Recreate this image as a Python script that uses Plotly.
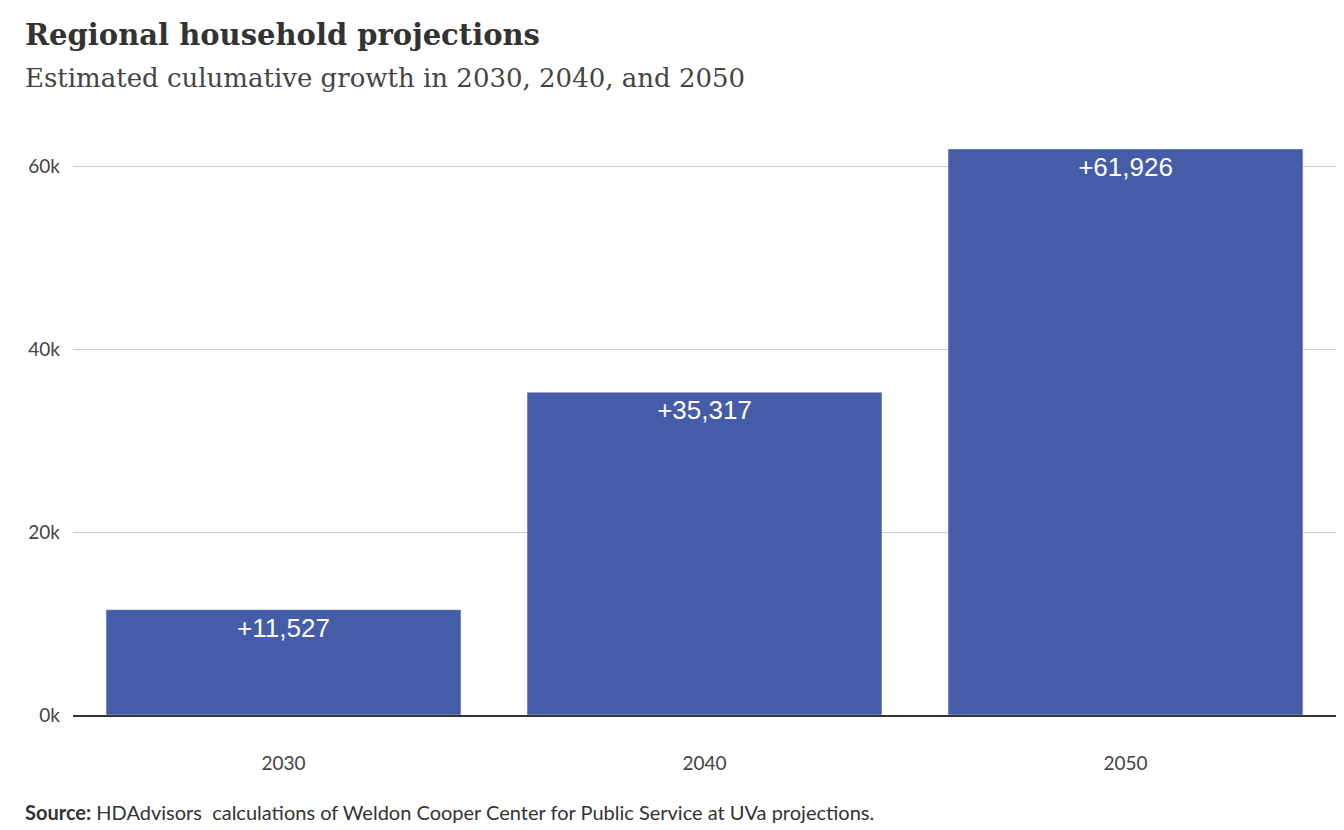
import plotly.graph_objects as go

years = ["2030", "2040", "2050"]
growth = [11527, 35317, 61926]
labels = ["+11,527", "+35,317", "+61,926"]

fig = go.Figure(go.Bar(
    x=years, y=growth, text=labels, textposition="inside", insidetextanchor="end",
    textfont=dict(family="Liberation Sans, Arial", size=26, color="white"),
    marker_color="#455ca9", hoverinfo="skip", cliponaxis=False,
))
fig.update_traces(textangle=0)
fig.update_layout(
    width=1344, height=830, paper_bgcolor="white", plot_bgcolor="white",
    margin=dict(l=65, r=16, t=122, b=123), bargap=0.157, showlegend=False,
    font=dict(family="Lato", color="#444"),
    uniformtext=dict(minsize=26, mode="show"),
    xaxis=dict(showline=True, linecolor="#333", linewidth=1.5, ticks="",
               tickfont=dict(size=19, color="#444")),
    yaxis=dict(range=[0, 64000], tickvals=[0, 20000, 40000, 60000],
               ticktext=["0k", "20k", "40k", "60k"], gridcolor="#ccc",
               tickfont=dict(size=19, color="#444"), zeroline=False, ticklen=0),
    annotations=[
        dict(text="<b>Regional household projections</b>", x=15, y=8, xref="paper", yref="paper",
             xanchor="left", yanchor="top", showarrow=False,
             font=dict(family="DejaVu Serif", size=29, color="#333")),
        dict(text="Estimated culumative growth in 2030, 2040, and 2050", x=15, y=53,
             xanchor="left", yanchor="top", showarrow=False,
             font=dict(family="DejaVu Serif", size=26, color="#444")),
        dict(text="<b>Source:</b> HDAdvisors  calculations of Weldon Cooper Center for Public Service at UVa projections.",
             x=15, y=790, xanchor="left", yanchor="top", showarrow=False,
             font=dict(family="Lato", size=20, color="#333")),
    ],
)
# position annotations in pixels via paper coords
for a in fig.layout.annotations:
    px, py = a.x, a.y
    a.x = (px - 65) / (1344 - 65 - 16)
    a.y = 1 - (py - 122) / (830 - 122 - 123)
    a.xref = "paper"; a.yref = "paper"
fig.update_xaxes(ticklabelstandoff=30)
fig.update_yaxes(ticklabelstandoff=12)
fig.write_html("out.html")
